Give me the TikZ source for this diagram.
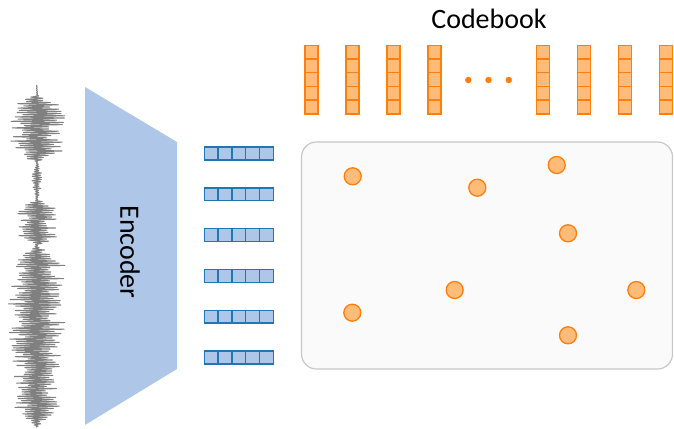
\documentclass[tikz,border=0pt]{standalone}
\usepackage{fontspec}
\setmainfont{Carlito}
\definecolor{encblue}{HTML}{1F77B4}
\definecolor{encfill}{HTML}{AEC7E8}
\definecolor{cbstroke}{HTML}{FF7F0E}
\definecolor{cbfill}{HTML}{FFBB78}
\definecolor{spacefill}{HTML}{FAFAFA}
\definecolor{spaceline}{HTML}{C8C8C8}
\definecolor{wavegray}{HTML}{808080}
\begin{document}
\begin{tikzpicture}[x=1pt,y=-1pt,
  declare function={
    env(\t)=0.6
      +(\t>95)*(\t<162)*27*min(1,2.2*abs(sin(((\t-95)/67)*180)))
      +(\t>162)*(\t<200)*5*abs(sin(((\t-162)/38)*180))
      +(\t>200)*(\t<245)*19*min(1,2.2*abs(sin(((\t-200)/45)*180)))
      +(\t>245)*(\t<428)*(28-6*min(1,max(0,(\t-330)/40)))*min(1,3*abs(sin(((\t-245)/183)*180)));
  },
  wave/.style={draw=wavegray, line width=1pt, line join=round},
  latcell/.style={draw=encblue, fill=encfill, line width=1.4pt,
    minimum width=13.8pt, minimum height=12.8pt, inner sep=0pt, outer sep=0pt},
  codecell/.style={draw=cbstroke, fill=cbfill, line width=1.4pt,
    minimum width=13.1pt, minimum height=13.7pt, inner sep=0pt, outer sep=0pt},
  codepoint/.style={circle, draw=cbstroke, fill=cbfill, line width=1.3pt,
    minimum size=17pt, inner sep=0pt},
  codedot/.style={circle, fill=cbstroke, minimum size=6.5pt, inner sep=0pt},
  label/.style={font=\fontsize{28}{30}\selectfont, inner sep=0pt}
]
\useasboundingbox (0,0) rectangle (674,428);

% waveform (time runs downwards), alternating sign gives the dense zigzag
\pgfmathsetseed{5}
\draw[wave] (37,85)
  \foreach \k in {1,...,311}{
    -- ({37+(1-2*mod(\k,2))*env(85+1.1*\k)*(0.35+0.65*rnd)},{85+1.1*\k})
  };

% encoder
\fill[encfill] (85,87) -- (177,142) -- (177,369) -- (85,425) -- cycle;
\node[label, rotate=-90] (enc) at (130,252) {Encoder};

% latent vectors
\foreach \r in {0,...,5}{
  \foreach \c in {0,...,4}{
    \node[latcell] (v\r c\c) at ({211.2+13.8*\c},{153.5+40.8*\r}) {};
  }
}

% codebook entries
\foreach \x [count=\i] in {311.5,352.5,393.5,434.5,543,584,625,666}{
  \foreach \c in {0,...,4}{
    \node[codecell] (cb\i c\c) at (\x,{52.2+13.7*\c}) {};
  }
}
\node[codedot] (d1) at (468.3,80) {};
\node[codedot] (d2) at (488.5,80) {};
\node[codedot] (d3) at (508.8,80) {};
\node[label] (cbtitle) at (489,19) {Codebook};

% embedding space with codebook points
\node[draw=spaceline, fill=spacefill, line width=1.2pt, rounded corners=15pt,
  minimum width=371pt, minimum height=227pt, inner sep=0pt] (space) at (487,255.5) {};
\foreach \px/\py [count=\i] in {352.7/176.3, 477.3/187.7, 556.7/165, 568/233.3,
    454.7/290, 352.3/312.7, 636.3/290, 568/335.3}{
  \node[codepoint] (p\i) at (\px,\py) {};
}
\end{tikzpicture}
\end{document}
